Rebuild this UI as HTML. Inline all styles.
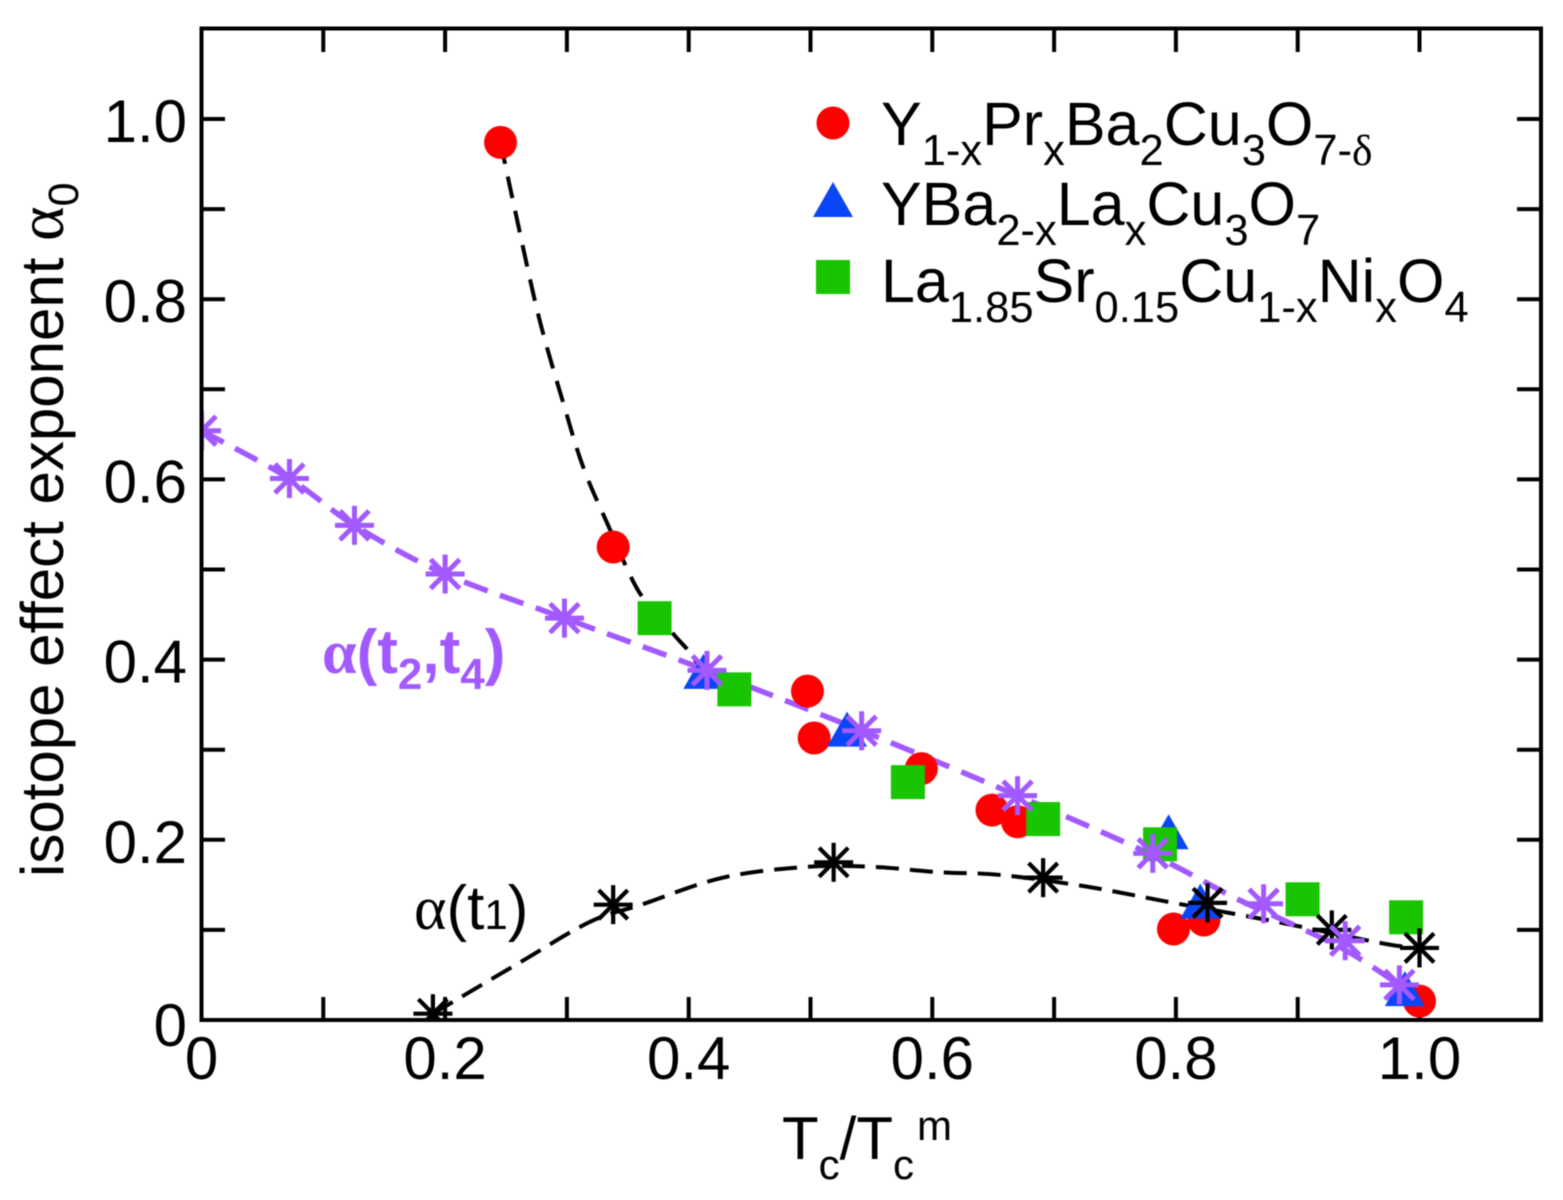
<!DOCTYPE html>
<html>
<head>
<meta charset="utf-8">
<title>Isotope effect exponent vs Tc/Tcm</title>
<style>
html,body{margin:0;padding:0;background:#fff;width:1563px;height:1200px;overflow:hidden}
svg{display:block;position:absolute;left:0;top:0;filter:blur(0.5px)}
text{font-family:"Liberation Sans",sans-serif;fill:#000}
.serif{font-family:"Liberation Serif",serif}
</style>
</head>
<body>
<svg id="chart" width="1563" height="1200" viewBox="0 0 1563 1200" xmlns="http://www.w3.org/2000/svg">
  <defs>
    <clipPath id="plot-clip"><rect x="201" y="28" width="1340" height="992"/></clipPath>
  </defs>
  <rect x="0" y="0" width="1563" height="1200" fill="#fff"/>
  <g id="ticks"></g>
  <g id="marks" clip-path="url(#plot-clip)"></g>
  <rect x="201.5" y="28.5" width="1339.5" height="991.5" fill="none" stroke="#000" stroke-width="4"/>
  <g id="tick-labels" font-size="60"></g>

  <text transform="translate(63,877) rotate(-90)" font-size="60">isotope effect exponent <tspan class="serif" font-size="66">α</tspan><tspan font-size="43" dy="15">0</tspan></text>
  <text x="782" y="1159" font-size="60">T<tspan font-size="42" dy="20">c</tspan><tspan dy="-20">/T</tspan><tspan font-size="42" dy="20">c</tspan><tspan font-size="42" dy="-39" dx="3">m</tspan></text>

  <g>
    <circle cx="833" cy="123" r="16.5" fill="#ff0000"/>
    <polygon points="813,217 853,217 833,182" fill="#0a46f5"/>
    <rect x="816" y="260" width="34" height="34" fill="#19c400"/>
    <text x="881" y="145" font-size="61">Y<tspan font-size="43.5" dy="20">1-x</tspan><tspan dy="-20">Pr</tspan><tspan font-size="43.5" dy="20">x</tspan><tspan dy="-20">Ba</tspan><tspan font-size="43.5" dy="20">2</tspan><tspan dy="-20">Cu</tspan><tspan font-size="43.5" dy="20">3</tspan><tspan dy="-20">O</tspan><tspan font-size="43.5" dy="20">7-</tspan><tspan class="serif" font-size="43.5">δ</tspan></text>
    <text x="881" y="225" font-size="61">YBa<tspan font-size="43.5" dy="20">2-x</tspan><tspan dy="-20">La</tspan><tspan font-size="43.5" dy="20">x</tspan><tspan dy="-20">Cu</tspan><tspan font-size="43.5" dy="20">3</tspan><tspan dy="-20">O</tspan><tspan font-size="43.5" dy="20">7</tspan></text>
    <text x="881" y="302" font-size="61">La<tspan font-size="43.5" dy="20">1.85</tspan><tspan dy="-20">Sr</tspan><tspan font-size="43.5" dy="20">0.15</tspan><tspan dy="-20">Cu</tspan><tspan font-size="43.5" dy="20">1-x</tspan><tspan dy="-20">Ni</tspan><tspan font-size="43.5" dy="20">x</tspan><tspan dy="-20">O</tspan><tspan font-size="43.5" dy="20">4</tspan></text>
  </g>

  <text x="322" y="673" font-size="62" font-weight="bold" style="fill:#a259ff"><tspan class="serif" style="fill:#a259ff">α</tspan>(t<tspan font-size="44" dy="16">2</tspan><tspan dy="-16">,t</tspan><tspan font-size="44" dy="16">4</tspan><tspan dy="-16">)</tspan></text>
  <text x="414" y="929" font-size="62"><tspan class="serif">α</tspan>(t<tspan font-size="42">1</tspan>)</text>
</svg>

<script>
// ---- chart data ----
const xTickValues = [0,0.1,0.2,0.3,0.4,0.5,0.6,0.7,0.8,0.9,1.0,1.1];
const yTickValues = [0,0.1,0.2,0.3,0.4,0.5,0.6,0.7,0.8,0.9,1.0];
const xTickLabels = ["0","","0.2","","0.4","","0.6","","0.8","","1.0",""];
const yTickLabels = ["0","","0.2","","0.4","","0.6","","0.8","","1.0"];

const redX = [0.2455,0.338,0.4975,0.503,0.591,0.649,0.670,0.798,0.823,1.0];
const redY = [0.974,0.525,0.365,0.313,0.279,0.233,0.220,0.101,0.111,0.021];

const blueX = [0.412,0.530,0.794,0.820,0.988];
const blueY = [0.383,0.319,0.205,0.128,0.031];

const greenX = [0.372,0.4375,0.580,0.691,0.787,0.904,0.989];
const greenY = [0.446,0.367,0.264,0.223,0.195,0.134,0.114];

const purpleX = [0,0.0722,0.1256,0.2,0.298,0.415,0.542,0.670,0.781,0.872,0.939,0.9835];
const purpleY = [0.654,0.601,0.549,0.495,0.446,0.388,0.321,0.249,0.185,0.129,0.088,0.039];

const blackX = [0.19,0.338,0.519,0.691,0.826,0.928,1.0];
const blackY = [0.007,0.128,0.175,0.158,0.130,0.100,0.080];

const upperCurveX = [0.2455,0.258,0.277,0.297,0.3133,0.3342,0.3588,0.3867,0.399,0.41];
const upperCurveY = [0.974,0.895,0.780,0.685,0.614,0.548,0.476,0.4295,0.411,0.39];

const purpleCurveX = [0,0.0722,0.1256,0.2,0.298,0.415,0.542,0.670,0.781,0.847,0.888,0.939,0.9835];
const purpleCurveY = [0.654,0.601,0.549,0.495,0.446,0.388,0.321,0.249,0.183,0.1365,0.111,0.0777,0.039];

const blackCurveX = [0.19,0.2615,0.319,0.361,0.428,0.497,0.551,0.606,0.656,0.727,0.798,0.875,0.970,1.0];
const blackCurveY = [0.007,0.064,0.109,0.128,0.158,0.170,0.170,0.164,0.161,0.148,0.130,0.111,0.085,0.080];

// ---- axis functions ----
function xScale(v){ return 201.5 + 1218 * v; }
function yScale(v){ return 1020 - 901 * v; }

const NS = "http://www.w3.org/2000/svg";
const marks = document.getElementById("marks");
const ticks = document.getElementById("ticks");
const tickLabels = document.getElementById("tick-labels");

function make(tag, attrs, parent){
  const el = document.createElementNS(NS, tag);
  for (const k in attrs) el.setAttribute(k, attrs[k]);
  parent.appendChild(el);
  return el;
}

function smoothPath(xs, ys){
  const p = xs.map((x,i)=>[xScale(x), yScale(ys[i])]);
  let d = "M" + p[0][0] + " " + p[0][1];
  for (let i = 0; i < p.length - 1; i++){
    const p0 = p[Math.max(i-1,0)], p1 = p[i], p2 = p[i+1], p3 = p[Math.min(i+2,p.length-1)];
    const c1x = p1[0] + (p2[0]-p0[0])/6, c1y = p1[1] + (p2[1]-p0[1])/6;
    const c2x = p2[0] - (p3[0]-p1[0])/6, c2y = p2[1] - (p3[1]-p1[1])/6;
    d += " C" + c1x + " " + c1y + " " + c2x + " " + c2y + " " + p2[0] + " " + p2[1];
  }
  return d;
}

// ---- ticks ----
xTickValues.forEach((v,i)=>{
  const x = xScale(v);
  if (i > 0 && i < xTickValues.length - 1){
    const tb = make("line",{x1:x,x2:x,y1:1020,y2:997,stroke:"#000","stroke-width":4},ticks);
    
    
    const tt = make("line",{x1:x,x2:x,y1:28,y2:52,stroke:"#000","stroke-width":4},ticks);
    
    
  }
  if (xTickLabels[i]){
    const t = make("text",{x:x,y:1079,"text-anchor":"middle"},tickLabels);
    t.textContent = xTickLabels[i];
    
    
  }
});
yTickValues.forEach((v,i)=>{
  const y = yScale(v);
  if (i > 0){
    const tl = make("line",{x1:201,x2:225,y1:y,y2:y,stroke:"#000","stroke-width":4},ticks);
    
    
    const tr = make("line",{x1:1541,x2:1517,y1:y,y2:y,stroke:"#000","stroke-width":4},ticks);
    
    
  }
  if (yTickLabels[i]){
    const t = make("text",{x:187,y:y+(v===0?26:23),"text-anchor":"end"},tickLabels);
    t.textContent = yTickLabels[i];
    
    
  }
});

// ---- curves ----
const upperLine = make("path",{d:smoothPath(upperCurveX,upperCurveY),fill:"none",stroke:"#000","stroke-width":4,"stroke-dasharray":"22 13"},marks);



const blackLine = make("path",{d:smoothPath(blackCurveX,blackCurveY),fill:"none",stroke:"#000","stroke-width":4,"stroke-dasharray":"23 11"},marks);



const purpleLine = make("path",{d:smoothPath(purpleCurveX,purpleCurveY),fill:"none",stroke:"#a259ff","stroke-width":5.5,"stroke-dasharray":"25 13"},marks);



// ---- markers ----
redX.forEach((v,i)=>{
  const c = make("circle",{cx:xScale(v),cy:yScale(redY[i]),r:16.5,fill:"#ff0000"},marks);
  
  
});
blueX.forEach((v,i)=>{
  const cx = xScale(v), cy = yScale(blueY[i]);
  const pts = (cx-20)+","+(cy+14)+" "+(cx+20)+","+(cy+14)+" "+cx+","+(cy-21);
  const p = make("polygon",{points:pts,fill:"#0a46f5"},marks);
  
  
});
greenX.forEach((v,i)=>{
  const r = make("rect",{x:xScale(v)-17,y:yScale(greenY[i])-17,width:34,height:34,fill:"#19c400"},marks);
  
  
});

function star(cx, cy, color, width){
  const g = make("g",{stroke:color,"stroke-width":width,fill:"none"},marks);
  const R = 19.5, D = 14.5;
  make("line",{x1:cx-R,x2:cx+R,y1:cy,y2:cy},g);
  make("line",{x1:cx,x2:cx,y1:cy-R,y2:cy+R},g);
  make("line",{x1:cx-D,x2:cx+D,y1:cy-D,y2:cy+D},g);
  make("line",{x1:cx-D,x2:cx+D,y1:cy+D,y2:cy-D},g);
  return g;
}
blackX.forEach((v,i)=>{
  const s = star(xScale(v),yScale(blackY[i]),"#000",4.2);
  
  
});
purpleX.forEach((v,i)=>{
  const s = star(xScale(v),yScale(purpleY[i]),"#a259ff",5);
  
  
});
</script>
</body>
</html>
